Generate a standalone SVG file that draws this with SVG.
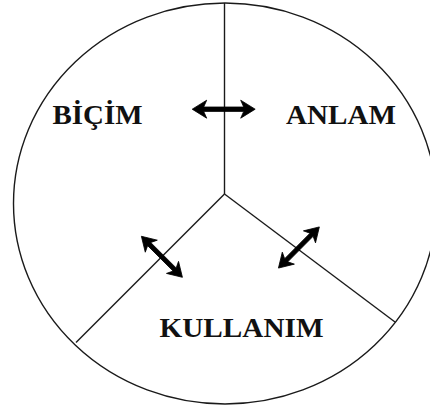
<svg xmlns="http://www.w3.org/2000/svg" width="430" height="409" viewBox="0 0 430 409">
<style>
.ln{fill:none;stroke:#1a1a1a;stroke-width:1.4}
.ar{fill:#000;stroke:#000;stroke-width:0.8;stroke-linejoin:miter}
.lb{font-family:"Liberation Serif","Times New Roman",serif;font-weight:bold;font-size:27.5px;fill:#111}
</style>
<rect width="430" height="409" fill="#fff"/>
<g id="connectors">
<ellipse class="ln" cx="225" cy="203.5" rx="211.5" ry="200.5"/>
<line class="ln" x1="224.5" y1="3" x2="224.5" y2="194"/>
<line class="ln" x1="224.5" y1="194" x2="76" y2="342.5"/>
<line class="ln" x1="224.5" y1="194" x2="395" y2="322"/>
<path class="ar" transform="translate(223.7,109.2)" d="M-31.5,0 L-17,-9 L-20,-2.2 L20,-2.2 L17,-9 L31.5,0 L17,9 L20,2.2 L-20,2.2 L-17,9 Z"/>
<path class="ar" transform="translate(161.9,256.8) rotate(45)" d="M-29,0 L-15,-8.5 L-18,-2.2 L18,-2.2 L15,-8.5 L29,0 L15,8.5 L18,2.2 L-18,2.2 L-15,8.5 Z"/>
<path class="ar" transform="translate(298.9,247.5) rotate(-45.2)" d="M-29,0 L-15,-8.5 L-18,-2.2 L18,-2.2 L15,-8.5 L29,0 L15,8.5 L18,2.2 L-18,2.2 L-15,8.5 Z"/>
</g>
<g id="bicim"><text class="lb" x="52.5" y="124" textLength="90" lengthAdjust="spacingAndGlyphs">BİÇİM</text></g>
<g id="anlam"><text class="lb" x="286" y="124" textLength="110" lengthAdjust="spacingAndGlyphs">ANLAM</text></g>
<g id="kullanim"><text class="lb" x="159.5" y="337" textLength="164" lengthAdjust="spacingAndGlyphs">KULLANIM</text></g>
</svg>
